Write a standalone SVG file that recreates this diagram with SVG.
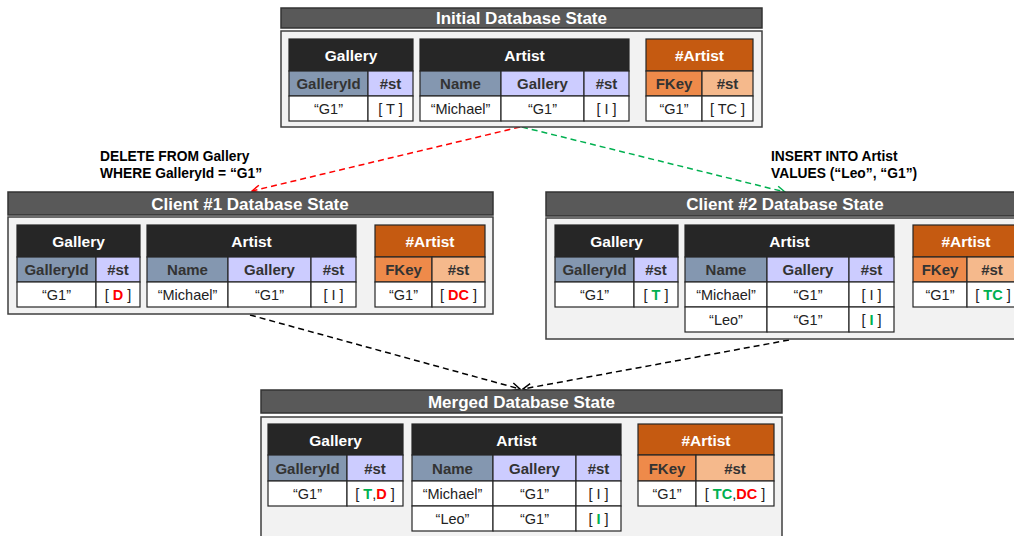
<svg xmlns="http://www.w3.org/2000/svg" width="1014" height="536" viewBox="0 0 1014 536">
  <defs>
    <style>
      .panel { fill: #f2f2f2; stroke: #3f3f3f; stroke-width: 1.5; }
      .bar { fill: #595959; stroke: #333333; stroke-width: 1.5; }
      .bartxt { font-family: "Liberation Sans", Arial, sans-serif; font-weight: bold; font-size: 17px; fill: #ffffff; text-anchor: middle; }
      .c { stroke: #262626; stroke-width: 1.2; }
      .thd { fill: #262626; }
      .tor { fill: #c55a11; }
      .key { fill: #8497b0; }
      .col { fill: #ccccff; }
      .fk { fill: #ee8a4a; }
      .fst { fill: #f5b98c; }
      .cell { fill: #ffffff; }
      .ht { font-family: "Liberation Sans", Arial, sans-serif; font-weight: bold; font-size: 15.5px; fill: #ffffff; text-anchor: middle; }
      .ch { font-family: "Liberation Sans", Arial, sans-serif; font-weight: bold; font-size: 15px; fill: #333333; text-anchor: middle; }
      .d { font-family: "Liberation Sans", Arial, sans-serif; font-size: 14.5px; fill: #222222; text-anchor: middle; }
      .g { fill: #00b050; font-weight: bold; }
      .r { fill: #ff0000; font-weight: bold; }
      .lbl { font-family: "Liberation Sans", Arial, sans-serif; font-weight: bold; font-size: 13.8px; fill: #000000; }
      .conn { fill: none; stroke-width: 1.5; stroke-dasharray: 6 4; }
    </style>
    <marker id="arrRed" markerWidth="10" markerHeight="10" refX="9" refY="5" orient="auto" markerUnits="userSpaceOnUse">
      <path d="M1,1 L9,5 L1,9" fill="none" stroke="#ff0000" stroke-width="1.5"/>
    </marker>
    <marker id="arrGreen" markerWidth="10" markerHeight="10" refX="9" refY="5" orient="auto" markerUnits="userSpaceOnUse">
      <path d="M1,1 L9,5 L1,9" fill="none" stroke="#00b050" stroke-width="1.5"/>
    </marker>
    <marker id="arrBlack" markerWidth="10" markerHeight="10" refX="9" refY="5" orient="auto" markerUnits="userSpaceOnUse">
      <path d="M1,1 L9,5 L1,9" fill="none" stroke="#000000" stroke-width="1.5"/>
    </marker>
  </defs>

  <rect x="0" y="0" width="1014" height="536" fill="#ffffff"/>

  <!-- connectors -->
  <g id="connectors">
    <path class="conn" stroke="#ff0000" d="M520,127 L252,191" marker-end="url(#arrRed)"/>
    <path class="conn" stroke="#00b050" d="M522,127 L785,192" marker-end="url(#arrGreen)"/>
    <path class="conn" stroke="#000000" d="M250,315 L520,389" marker-end="url(#arrBlack)"/>
    <path class="conn" stroke="#000000" d="M789,340 L523,389" marker-end="url(#arrBlack)"/>
    <text class="lbl" x="100" y="161">DELETE FROM Gallery</text>
    <text class="lbl" x="100" y="177.5">WHERE GalleryId = “G1”</text>
    <text class="lbl" x="771" y="161">INSERT INTO Artist</text>
    <text class="lbl" x="771" y="177.5">VALUES (“Leo”, “G1”)</text>
  </g>

  <!-- initial state -->
  <g id="initial">
    <rect class="bar" x="281" y="8" width="481" height="20"/>
    <text class="bartxt" x="521.5" y="24">Initial Database State</text>
    <rect class="panel" x="281" y="31" width="481" height="96"/>
    <g id="initial-gallery">
      <rect class="c thd" x="289" y="39" width="124" height="32"/>
      <rect class="c key" x="289" y="71" width="79" height="25"/>
      <rect class="c col" x="368" y="71" width="45" height="25"/>
      <rect class="c cell" x="289" y="96" width="79" height="25"/>
      <rect class="c cell" x="368" y="96" width="45" height="25"/>
      <text class="ht" x="351" y="61">Gallery</text>
      <text class="ch" x="328.5" y="89">GalleryId</text>
      <text class="ch" x="390.5" y="89">#st</text>
      <text class="d" x="328.5" y="114">“G1”</text>
      <text class="d" x="390.5" y="114">[ T ]</text>
    </g>
    <g id="initial-artist">
      <rect class="c thd" x="420" y="39" width="209" height="32"/>
      <rect class="c key" x="420" y="71" width="81" height="25"/>
      <rect class="c col" x="501" y="71" width="83" height="25"/>
      <rect class="c col" x="584" y="71" width="45" height="25"/>
      <rect class="c cell" x="420" y="96" width="81" height="25"/>
      <rect class="c cell" x="501" y="96" width="83" height="25"/>
      <rect class="c cell" x="584" y="96" width="45" height="25"/>
      <text class="ht" x="524.5" y="61">Artist</text>
      <text class="ch" x="460.5" y="89">Name</text>
      <text class="ch" x="542.5" y="89">Gallery</text>
      <text class="ch" x="606.5" y="89">#st</text>
      <text class="d" x="460.5" y="114">“Michael”</text>
      <text class="d" x="542.5" y="114">“G1”</text>
      <text class="d" x="606.5" y="114">[ I ]</text>
    </g>
    <g id="initial-artist-meta">
      <rect class="c tor" x="646" y="39" width="107" height="32"/>
      <rect class="c fk" x="646" y="71" width="56" height="25"/>
      <rect class="c fst" x="702" y="71" width="51" height="25"/>
      <rect class="c cell" x="646" y="96" width="56" height="25"/>
      <rect class="c cell" x="702" y="96" width="51" height="25"/>
      <text class="ht" x="699.5" y="61">#Artist</text>
      <text class="ch" x="674" y="89">FKey</text>
      <text class="ch" x="727.5" y="89">#st</text>
      <text class="d" x="674" y="114">“G1”</text>
      <text class="d" x="727.5" y="114">[ TC ]</text>
    </g>
  </g>

  <!-- client 1 -->
  <g id="client1">
    <rect class="bar" x="8" y="192" width="485" height="23"/>
    <text class="bartxt" x="250" y="210">Client #1 Database State</text>
    <rect class="panel" x="8" y="217" width="485" height="97"/>
    <g id="client1-gallery">
      <rect class="c thd" x="17" y="225" width="123" height="32"/>
      <rect class="c key" x="17" y="257" width="79" height="25"/>
      <rect class="c col" x="96" y="257" width="44" height="25"/>
      <rect class="c cell" x="17" y="282" width="79" height="25"/>
      <rect class="c cell" x="96" y="282" width="44" height="25"/>
      <text class="ht" x="78.5" y="247">Gallery</text>
      <text class="ch" x="56.5" y="275">GalleryId</text>
      <text class="ch" x="118" y="275">#st</text>
      <text class="d" x="56.5" y="300">“G1”</text>
      <text class="d" x="118" y="300">[ <tspan class="r">D</tspan> ]</text>
    </g>
    <g id="client1-artist">
      <rect class="c thd" x="147" y="225" width="209" height="32"/>
      <rect class="c key" x="147" y="257" width="81" height="25"/>
      <rect class="c col" x="228" y="257" width="83" height="25"/>
      <rect class="c col" x="311" y="257" width="45" height="25"/>
      <rect class="c cell" x="147" y="282" width="81" height="25"/>
      <rect class="c cell" x="228" y="282" width="83" height="25"/>
      <rect class="c cell" x="311" y="282" width="45" height="25"/>
      <text class="ht" x="251.5" y="247">Artist</text>
      <text class="ch" x="187.5" y="275">Name</text>
      <text class="ch" x="269.5" y="275">Gallery</text>
      <text class="ch" x="333.5" y="275">#st</text>
      <text class="d" x="187.5" y="300">“Michael”</text>
      <text class="d" x="269.5" y="300">“G1”</text>
      <text class="d" x="333.5" y="300">[ I ]</text>
    </g>
    <g id="client1-artist-meta">
      <rect class="c tor" x="375" y="225" width="110" height="32"/>
      <rect class="c fk" x="375" y="257" width="57" height="25"/>
      <rect class="c fst" x="432" y="257" width="53" height="25"/>
      <rect class="c cell" x="375" y="282" width="57" height="25"/>
      <rect class="c cell" x="432" y="282" width="53" height="25"/>
      <text class="ht" x="430" y="247">#Artist</text>
      <text class="ch" x="403.5" y="275">FKey</text>
      <text class="ch" x="458.5" y="275">#st</text>
      <text class="d" x="403.5" y="300">“G1”</text>
      <text class="d" x="458.5" y="300">[ <tspan class="r">DC</tspan> ]</text>
    </g>
  </g>

  <!-- client 2 -->
  <g id="client2">
    <rect class="bar" x="546" y="192" width="485" height="24"/>
    <text class="bartxt" x="785" y="210">Client #2 Database State</text>
    <rect class="panel" x="546" y="218" width="485" height="121"/>
    <g id="client2-gallery">
      <rect class="c thd" x="555" y="225" width="123" height="32"/>
      <rect class="c key" x="555" y="257" width="79" height="25"/>
      <rect class="c col" x="634" y="257" width="44" height="25"/>
      <rect class="c cell" x="555" y="282" width="79" height="25"/>
      <rect class="c cell" x="634" y="282" width="44" height="25"/>
      <text class="ht" x="616.5" y="247">Gallery</text>
      <text class="ch" x="594.5" y="275">GalleryId</text>
      <text class="ch" x="656" y="275">#st</text>
      <text class="d" x="594.5" y="300">“G1”</text>
      <text class="d" x="656" y="300">[ <tspan class="g">T</tspan> ]</text>
    </g>
    <g id="client2-artist">
      <rect class="c thd" x="685" y="225" width="209" height="32"/>
      <rect class="c key" x="685" y="257" width="82" height="25"/>
      <rect class="c col" x="767" y="257" width="82" height="25"/>
      <rect class="c col" x="849" y="257" width="45" height="25"/>
      <rect class="c cell" x="685" y="282" width="82" height="25"/>
      <rect class="c cell" x="767" y="282" width="82" height="25"/>
      <rect class="c cell" x="849" y="282" width="45" height="25"/>
      <rect class="c cell" x="685" y="307" width="82" height="25"/>
      <rect class="c cell" x="767" y="307" width="82" height="25"/>
      <rect class="c cell" x="849" y="307" width="45" height="25"/>
      <text class="ht" x="789.5" y="247">Artist</text>
      <text class="ch" x="726" y="275">Name</text>
      <text class="ch" x="808" y="275">Gallery</text>
      <text class="ch" x="871.5" y="275">#st</text>
      <text class="d" x="726" y="300">“Michael”</text>
      <text class="d" x="808" y="300">“G1”</text>
      <text class="d" x="871.5" y="300">[ I ]</text>
      <text class="d" x="726" y="325">“Leo”</text>
      <text class="d" x="808" y="325">“G1”</text>
      <text class="d" x="871.5" y="325">[ <tspan class="g">I</tspan> ]</text>
    </g>
    <g id="client2-artist-meta">
      <rect class="c tor" x="913" y="225" width="110" height="32"/>
      <rect class="c fk" x="913" y="257" width="54" height="25"/>
      <rect class="c fst" x="967" y="257" width="56" height="25"/>
      <rect class="c cell" x="913" y="282" width="54" height="25"/>
      <rect class="c cell" x="967" y="282" width="56" height="25"/>
      <text class="ht" x="966" y="247">#Artist</text>
      <text class="ch" x="940" y="275">FKey</text>
      <text class="ch" x="992" y="275">#st</text>
      <text class="d" x="940" y="300">“G1”</text>
      <text class="d" x="993" y="300">[ <tspan class="g">TC</tspan> ]</text>
    </g>
  </g>

  <!-- merged state -->
  <g id="merged">
    <rect class="bar" x="261" y="390" width="521" height="23"/>
    <text class="bartxt" x="521.5" y="408">Merged Database State</text>
    <rect class="panel" x="261" y="417" width="521" height="130"/>
    <g id="merged-gallery">
      <rect class="c thd" x="268" y="424" width="135" height="31"/>
      <rect class="c key" x="268" y="455" width="79" height="26"/>
      <rect class="c col" x="347" y="455" width="56" height="26"/>
      <rect class="c cell" x="268" y="481" width="79" height="25"/>
      <rect class="c cell" x="347" y="481" width="56" height="25"/>
      <text class="ht" x="335.5" y="445.5">Gallery</text>
      <text class="ch" x="307.5" y="473.5">GalleryId</text>
      <text class="ch" x="375" y="473.5">#st</text>
      <text class="d" x="307.5" y="499">“G1”</text>
      <text class="d" x="375" y="499">[ <tspan class="g">T</tspan>,<tspan class="r">D</tspan> ]</text>
    </g>
    <g id="merged-artist">
      <rect class="c thd" x="412" y="424" width="209" height="31"/>
      <rect class="c key" x="412" y="455" width="81" height="26"/>
      <rect class="c col" x="493" y="455" width="83" height="26"/>
      <rect class="c col" x="576" y="455" width="45" height="26"/>
      <rect class="c cell" x="412" y="481" width="81" height="25"/>
      <rect class="c cell" x="493" y="481" width="83" height="25"/>
      <rect class="c cell" x="576" y="481" width="45" height="25"/>
      <rect class="c cell" x="412" y="506" width="81" height="25"/>
      <rect class="c cell" x="493" y="506" width="83" height="25"/>
      <rect class="c cell" x="576" y="506" width="45" height="25"/>
      <text class="ht" x="516.5" y="445.5">Artist</text>
      <text class="ch" x="452.5" y="473.5">Name</text>
      <text class="ch" x="534.5" y="473.5">Gallery</text>
      <text class="ch" x="598.5" y="473.5">#st</text>
      <text class="d" x="452.5" y="499">“Michael”</text>
      <text class="d" x="534.5" y="499">“G1”</text>
      <text class="d" x="598.5" y="499">[ I ]</text>
      <text class="d" x="452.5" y="524">“Leo”</text>
      <text class="d" x="534.5" y="524">“G1”</text>
      <text class="d" x="598.5" y="524">[ <tspan class="g">I</tspan> ]</text>
    </g>
    <g id="merged-artist-meta">
      <rect class="c tor" x="638" y="424" width="136" height="31"/>
      <rect class="c fk" x="638" y="455" width="58" height="26"/>
      <rect class="c fst" x="696" y="455" width="78" height="26"/>
      <rect class="c cell" x="638" y="481" width="58" height="25"/>
      <rect class="c cell" x="696" y="481" width="78" height="25"/>
      <text class="ht" x="706" y="445.5">#Artist</text>
      <text class="ch" x="667" y="473.5">FKey</text>
      <text class="ch" x="735" y="473.5">#st</text>
      <text class="d" x="667" y="499">“G1”</text>
      <text class="d" x="735" y="499">[ <tspan class="g">TC</tspan>,<tspan class="r">DC</tspan> ]</text>
    </g>
  </g>
</svg>
